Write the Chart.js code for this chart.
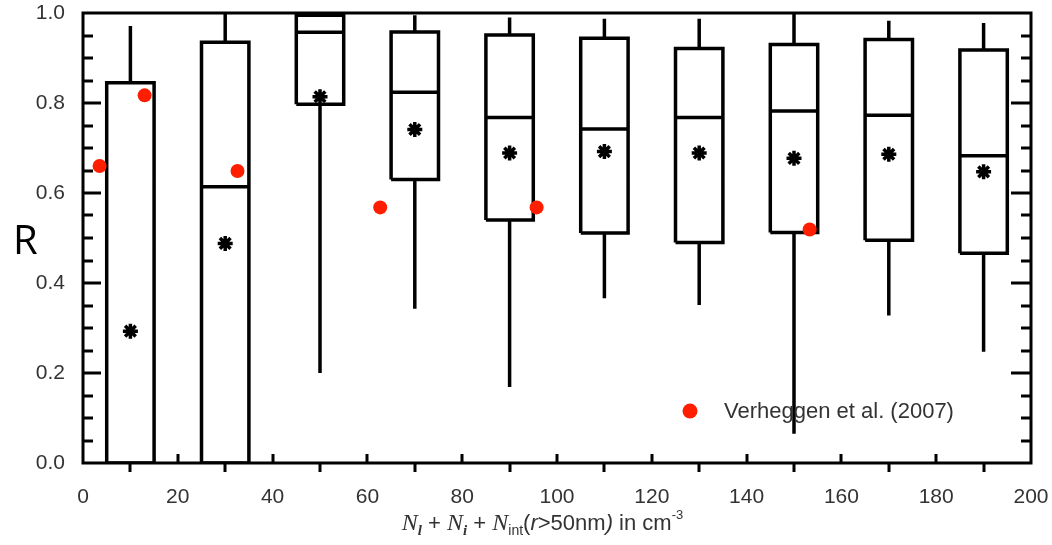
<!DOCTYPE html>
<html>
<head>
<meta charset="utf-8">
<script src="https://cdn.jsdelivr.net/npm/chart.js@4.4.1/dist/chart.umd.min.js"></script>
<style>
  html, body { margin: 0; padding: 0; background: #fff; }
  #wrap { width: 1052px; height: 545px; }
</style>
</head>
<body>
<div id="wrap"><canvas id="chart"></canvas></div>
<script>
// Dados (R por classe de concentração)
const centers     = [10, 30, 50, 70, 90, 110, 130, 150, 170, 190];
const whiskerHigh = [0.971, 1.0, 1.0, 0.995, 0.990, 0.987, 0.987, 1.0, 0.983, 0.978];
const q3          = [0.845, 0.935, 0.995, 0.958, 0.951, 0.944, 0.921, 0.930, 0.941, 0.918];
const medians     = [0.0, 0.614, 0.957, 0.824, 0.768, 0.742, 0.768, 0.782, 0.773, 0.683];
const q1          = [0.0, 0.0, 0.797, 0.630, 0.540, 0.511, 0.490, 0.512, 0.495, 0.466];
const whiskerLow  = [0.0, 0.0, 0.200, 0.343, 0.169, 0.366, 0.351, 0.065, 0.328, 0.247];
const means       = [0.293, 0.488, 0.814, 0.741, 0.689, 0.692, 0.689, 0.677, 0.686, 0.647];

// Verheggen et al. (2007)
const verhX = [3.5, 13.0, 32.6, 62.7, 95.7, 153.3];
const verhY = [0.660, 0.817, 0.649, 0.568, 0.568, 0.519];

const xTicks = [0, 20, 40, 60, 80, 100, 120, 140, 160, 180, 200];
const yTicks = [0.0, 0.2, 0.4, 0.6, 0.8, 1.0];

const yTitle = 'R';
const legendLabel = 'Verheggen et al. (2007)';
// titulo do eixo x em pedaços (sub/sobrescritos)
const xTitleParts = [
  { t: 'N', f: 'italic 24px "Liberation Serif"' },
  { t: 'l', f: 'bold italic 15px "Liberation Serif"', dy: 5 },
  { t: ' + ', f: '22px "Liberation Sans"' },
  { t: 'N', f: 'italic 24px "Liberation Serif"' },
  { t: 'i', f: 'bold italic 15px "Liberation Serif"', dy: 5 },
  { t: ' + ', f: '22px "Liberation Sans"' },
  { t: 'N', f: 'italic 24px "Liberation Serif"' },
  { t: 'int', f: '14px "Liberation Sans"', dy: 5 },
  { t: '(', f: '22px "Liberation Sans"' },
  { t: 'r', f: 'italic 22px "Liberation Sans"' },
  { t: '>50nm', f: '22px "Liberation Sans"' },
  { t: ')', f: 'italic 22px "Liberation Sans"' },
  { t: ' in cm', f: '22px "Liberation Sans"' },
  { t: '-3', f: '13px "Liberation Sans"', dy: -11 }
];

const BOX_HALF = 5;
const RED = 'rgb(255, 30, 0)';
const TXT = '#333';

// --- monta caixas, medianas e bigodes como uma linha com quebras ---
function buildBoxes() {
  const pts = [];
  const brk = (x) => pts.push({ x: x, y: null });
  centers.forEach((c, i) => {
    const l = c - BOX_HALF, r = c + BOX_HALF;
    pts.push({ x: l, y: q1[i] }, { x: r, y: q1[i] }, { x: r, y: q3[i] }, { x: l, y: q3[i] }, { x: l, y: q1[i] });
    brk(c);
    pts.push({ x: l, y: medians[i] }, { x: r, y: medians[i] });
    brk(c);
    if (whiskerHigh[i] > q3[i]) { pts.push({ x: c, y: q3[i] }, { x: c, y: whiskerHigh[i] }); brk(c); }
    if (whiskerLow[i] < q1[i]) { pts.push({ x: c, y: q1[i] }, { x: c, y: whiskerLow[i] }); brk(c); }
  });
  return pts;
}

// --- moldura, ticks internos, legenda e títulos ---
const framePlugin = {
  id: 'frame',
  afterDraw(chart) {
    const ctx = chart.ctx;
    const a = chart.chartArea;
    const xs = chart.scales.x, ys = chart.scales.y;
    ctx.save();
    ctx.strokeStyle = '#000';
    ctx.lineWidth = 3;
    ctx.lineCap = 'butt';
    ctx.beginPath();
    ctx.rect(a.left, a.top, a.right - a.left, a.bottom - a.top);
    ctx.stroke();

    // ticks y (esquerda e direita)
    ctx.beginPath();
    for (let k = 1; k < 20; k++) {
      const py = Math.round(ys.getPixelForValue(k / 20));
      const major = k % 4 === 0;
      const lenL = major ? 18 : 10, lenR = major ? 20 : 10;
      ctx.moveTo(a.left, py); ctx.lineTo(a.left + lenL, py);
      ctx.moveTo(a.right, py); ctx.lineTo(a.right - lenR, py);
    }
    // ticks x: para dentro nos rótulos, para fora nos centros das caixas
    xTicks.forEach(v => {
      if (v === 0 || v === 200) return;
      const px = Math.round(xs.getPixelForValue(v));
      ctx.moveTo(px, a.bottom); ctx.lineTo(px, a.bottom - 9);
    });
    centers.forEach(v => {
      const px = Math.round(xs.getPixelForValue(v));
      ctx.moveTo(px, a.bottom); ctx.lineTo(px, a.bottom + 9);
    });
    ctx.stroke();

    // legenda
    const lx = a.right - 341, ly = a.bottom - 52;
    ctx.fillStyle = RED;
    ctx.beginPath();
    ctx.arc(lx, ly, 7.5, 0, Math.PI * 2);
    ctx.fill();
    ctx.fillStyle = TXT;
    ctx.font = '22px "Liberation Sans"';
    ctx.textBaseline = 'middle';
    ctx.textAlign = 'left';
    ctx.fillText(legendLabel, lx + 34, ly + 1);

    // "R"
    ctx.fillStyle = '#000';
    ctx.font = '40px "Open Sans"';
    ctx.textBaseline = 'alphabetic';
    ctx.fillText(yTitle, 13, 254);

    // título x
    let total = 0;
    xTitleParts.forEach(p => { ctx.font = p.f; total += ctx.measureText(p.t).width; });
    let x = 395 + (295 - total) / 2;
    const base = 530;
    ctx.fillStyle = TXT;
    xTitleParts.forEach(p => {
      ctx.font = p.f;
      ctx.fillText(p.t, x, base + (p.dy || 0));
      x += ctx.measureText(p.t).width;
    });
    ctx.restore();
  }
};

const ctx = document.getElementById('chart').getContext('2d');
new Chart(ctx, {
  type: 'scatter',
  data: {
    datasets: [
      {
        label: 'boxes',
        data: buildBoxes(),
        showLine: true,
        spanGaps: false,
        borderColor: '#000',
        borderWidth: 3.5,
        borderJoinStyle: 'miter',
        pointRadius: 0,
        order: 2
      },
      {
        label: 'mean',
        data: centers.map((c, i) => ({ x: c, y: means[i] })),
        pointStyle: 'star',
        pointRadius: 7.5,
        borderWidth: 3.5,
        borderColor: '#000',
        backgroundColor: '#000',
        order: 1
      },
      {
        label: legendLabel,
        data: verhX.map((x, i) => ({ x: x, y: verhY[i] })),
        pointStyle: 'circle',
        pointRadius: 7,
        borderWidth: 0,
        backgroundColor: RED,
        order: 0
      }
    ]
  },
  options: {
    responsive: true,
    maintainAspectRatio: false,
    animation: false,
    devicePixelRatio: 1,
    layout: { padding: { top: 13, right: 21, left: 0, bottom: 0 } },
    plugins: { legend: { display: false }, tooltip: { enabled: false } },
    scales: {
      x: {
        type: 'linear',
        min: 0, max: 200,
        afterBuildTicks: (s) => { s.ticks = xTicks.map(v => ({ value: v })); },
        afterFit: (s) => { s.height = 82; s.paddingLeft = 0; s.paddingRight = 0; },
        grid: { display: false },
        border: { display: false },
        ticks: { color: TXT, font: { family: 'Liberation Sans', size: 21 }, padding: 14, maxRotation: 0 }
      },
      y: {
        min: 0, max: 1.0,
        afterBuildTicks: (s) => { s.ticks = yTicks.map(v => ({ value: v })); },
        afterFit: (s) => { s.width = 83; s.paddingTop = 0; s.paddingBottom = 0; },
        grid: { display: false },
        border: { display: false },
        ticks: {
          color: TXT, font: { family: 'Liberation Sans', size: 21 }, padding: 10,
          callback: (v) => Number(v).toFixed(1)
        }
      }
    }
  },
  plugins: [framePlugin]
});
</script>
</body>
</html>
